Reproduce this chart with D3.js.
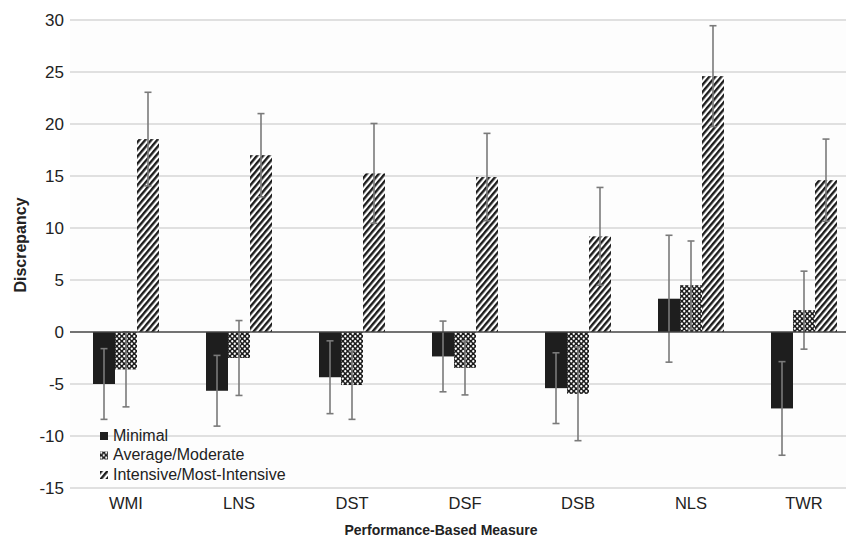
<!DOCTYPE html>
<html>
<head>
<meta charset="utf-8">
<script src="https://cdn.jsdelivr.net/npm/d3@7"></script>
<style>
  body { margin: 0; background: #fff; }
  svg { display: block; font-family: "Liberation Sans", Arial, Helvetica, sans-serif; }
</style>
</head>
<body>
<div id="chart"></div>
<script>
// data
const categories = ["WMI", "LNS", "DST", "DSF", "DSB", "NLS", "TWR"];
const series = ["Minimal", "Average/Moderate", "Intensive/Most-Intensive"];
const minimalMean = [-5.0, -5.65, -4.35, -2.35, -5.4, 3.2, -7.35];
const minimalErr = [3.4, 3.4, 3.5, 3.4, 3.4, 6.1, 4.5];
const averageMean = [-3.6, -2.5, -5.1, -3.45, -5.95, 4.5, 2.1];
const averageErr = [3.6, 3.6, 3.3, 2.6, 4.5, 4.25, 3.75];
const intensiveMean = [18.55, 17.0, 15.25, 14.9, 9.2, 24.6, 14.6];
const intensiveErr = [4.5, 4.0, 4.8, 4.2, 4.7, 4.85, 3.95];
const yTicks = [30, 25, 20, 15, 10, 5, 0, -5, -10, -15];

const width = 846;
const height = 537;

const svg = d3.select("#chart").append("svg")
  .attr("width", width)
  .attr("height", height);

// patterns
const defs = svg.append("defs");
const checker = defs.append("pattern")
  .attr("id", "pat-avg")
  .attr("patternUnits", "userSpaceOnUse")
  .attr("width", 5).attr("height", 5);
checker.append("rect").attr("width", 5).attr("height", 5).attr("fill", "#1c1c1c");
checker.append("circle").attr("cx", 1.25).attr("cy", 1.25).attr("r", 1.15).attr("fill", "#fff");
checker.append("circle").attr("cx", 3.75).attr("cy", 3.75).attr("r", 1.15).attr("fill", "#fff");

const stripes = defs.append("pattern")
  .attr("id", "pat-int")
  .attr("patternUnits", "userSpaceOnUse")
  .attr("width", 4.6).attr("height", 4.6)
  .attr("patternTransform", "rotate(40)");
stripes.append("rect").attr("width", 4.6).attr("height", 4.6).attr("fill", "#fff");
stripes.append("rect").attr("width", 2.4).attr("height", 4.6).attr("fill", "#1c1c1c");

const fills = ["#1e1e1e", "url(#pat-avg)", "url(#pat-int)"];

// scales
const x0 = d3.scaleBand()
  .domain(categories)
  .range([69.5, 860.5])
  .paddingInner(0.416)
  .paddingOuter(0.208);

const x1 = d3.scaleBand()
  .domain(series)
  .range([0, x0.bandwidth()]);

const y = d3.scaleLinear()
  .domain([-15, 30])
  .range([488, 20]);

// plot background
svg.append("rect")
  .attr("x", 70).attr("y", y(30))
  .attr("width", width - 70).attr("height", y(-15) - y(30))
  .attr("fill", "#fdfdfd");

// gridlines
svg.append("g")
  .selectAll("line")
  .data(yTicks.filter(d => d !== 0))
  .join("line")
  .attr("x1", 70).attr("x2", width)
  .attr("y1", d => y(d)).attr("y2", d => y(d))
  .attr("stroke", "#d6d6d6")
  .attr("stroke-width", 1.5);

// y axis labels (plain hyphen for negatives, as in the source)
const yAxis = svg.append("g")
  .attr("transform", "translate(64,0)")
  .call(d3.axisLeft(y).tickValues(yTicks).tickSize(0).tickPadding(0).tickFormat(d => String(d)));
yAxis.select(".domain").remove();
yAxis.selectAll("text")
  .attr("font-size", 17)
  .attr("fill", "#222");

const rows = categories.map((c, i) => ({
  cat: c,
  vals: [
    { s: 0, mean: minimalMean[i], err: minimalErr[i] },
    { s: 1, mean: averageMean[i], err: averageErr[i] },
    { s: 2, mean: intensiveMean[i], err: intensiveErr[i] }
  ]
}));

const groups = svg.append("g")
  .selectAll("g")
  .data(rows)
  .join("g")
  .attr("transform", d => "translate(" + x0(d.cat) + ",0)");

groups.selectAll("rect")
  .data(d => d.vals)
  .join("rect")
  .attr("x", d => x1(series[d.s]))
  .attr("y", d => y(Math.max(0, d.mean)))
  .attr("width", x1.bandwidth())
  .attr("height", d => Math.abs(y(d.mean) - y(0)))
  .attr("fill", d => fills[d.s]);

// zero line
svg.append("line")
  .attr("x1", 70).attr("x2", width)
  .attr("y1", y(0)).attr("y2", y(0))
  .attr("stroke", "#444")
  .attr("stroke-width", 1.5);

// error bars
const eb = groups.selectAll("g.err")
  .data(d => d.vals)
  .join("g")
  .attr("class", "err")
  .attr("stroke", "#7a7a7a")
  .attr("stroke-width", 1.6);
const cx = d => x1(series[d.s]) + x1.bandwidth() / 2;
eb.append("line")
  .attr("x1", cx).attr("x2", cx)
  .attr("y1", d => y(d.mean + d.err))
  .attr("y2", d => y(d.mean - d.err));
eb.append("line")
  .attr("x1", d => cx(d) - 3.5).attr("x2", d => cx(d) + 3.5)
  .attr("y1", d => y(d.mean + d.err)).attr("y2", d => y(d.mean + d.err));
eb.append("line")
  .attr("x1", d => cx(d) - 3.5).attr("x2", d => cx(d) + 3.5)
  .attr("y1", d => y(d.mean - d.err)).attr("y2", d => y(d.mean - d.err));

// x labels
const xAxis = svg.append("g")
  .attr("transform", "translate(0," + 497 + ")")
  .call(d3.axisBottom(x0).tickSize(0).tickPadding(0));
xAxis.select(".domain").remove();
xAxis.selectAll("text")
  .attr("font-size", 16.5)
  .attr("fill", "#222");

// axis titles
svg.append("text")
  .attr("x", 441).attr("y", 535)
  .attr("text-anchor", "middle")
  .attr("font-size", 14)
  .attr("font-weight", "bold")
  .attr("fill", "#222")
  .text("Performance-Based Measure");

svg.append("text")
  .attr("transform", "translate(26,245) rotate(-90)")
  .attr("text-anchor", "middle")
  .attr("font-size", 16)
  .attr("font-weight", "bold")
  .attr("fill", "#222")
  .text("Discrepancy");

// legend
const legend = svg.append("g")
  .attr("transform", "translate(100,432)")
  .selectAll("g")
  .data(series)
  .join("g")
  .attr("transform", (d, i) => "translate(0," + (i * 19.5) + ")");
legend.append("rect")
  .attr("width", 8).attr("height", 8)
  .attr("y", 0)
  .attr("fill", (d, i) => fills[i]);
legend.append("text")
  .attr("x", 13).attr("y", 8.5)
  .attr("font-size", 16)
  .attr("fill", "#222")
  .text(d => d);
</script>
</body>
</html>
